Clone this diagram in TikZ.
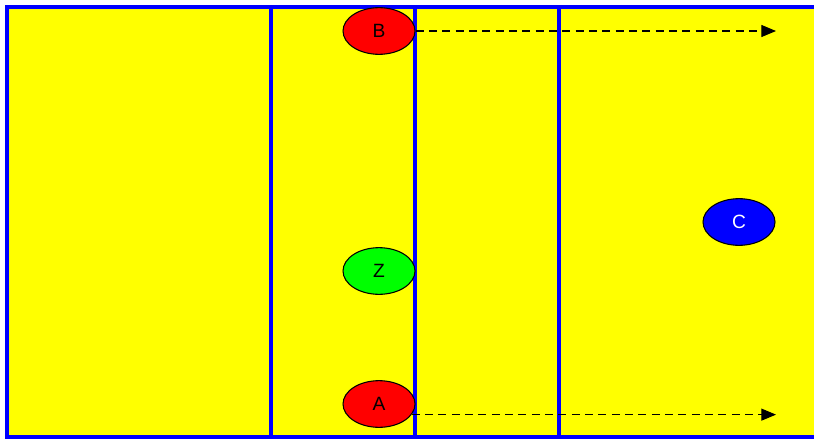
\documentclass[tikz,border=0pt]{standalone}
\usepackage{fontspec}
\setmainfont{Liberation Sans}
\usepackage{tikz}
\usetikzlibrary{positioning,arrows.meta,shapes.geometric}
\definecolor{fieldyellow}{RGB}{255,255,0}
\definecolor{zoneblue}{RGB}{0,0,255}
\definecolor{tagred}{RGB}{255,0,0}
\definecolor{taggreen}{RGB}{0,255,0}

\begin{document}
\begin{tikzpicture}[
x=0.75pt, y=-0.75pt,
player/.style={ellipse, draw=black, thick, minimum width=54pt, minimum height=35pt, inner sep=0pt, font=\Large, text depth=-2pt},
zone/.style={draw=zoneblue, line width=2.4pt},
run/.style={-{Triangle[length=11pt,width=9pt]}, dash pattern=on 6pt off 4pt, thick, black}
]
\clip (0,0) rectangle (814,439);
\useasboundingbox (0,0) rectangle (814,439);
\fill[white] (0,0) rectangle (814,439);
% field
\filldraw[zone, fill=fieldyellow] (7,7) rectangle (840,437);
\draw[zone] (271,7) -- (271,437);
\draw[zone] (415,7) -- (415,437);
\draw[zone] (559,7) -- (559,437);
% players
\node[player, fill=tagred] (B) at (379,31) {B};
\node[player, fill=taggreen] (Z) at (379,271) {Z};
\node[player, fill=tagred] (A) at (379,404) {A};
\node[player, fill=zoneblue, text=white] (C) at (739,222) {C};
\coordinate (bEnd) at (776,31);
\coordinate (aEnd) at (776,414);
\draw[run] (B.east) -- (bEnd);
\draw[run] (A.-18) -- (A.-18 -| aEnd);
\end{tikzpicture}
\end{document}
